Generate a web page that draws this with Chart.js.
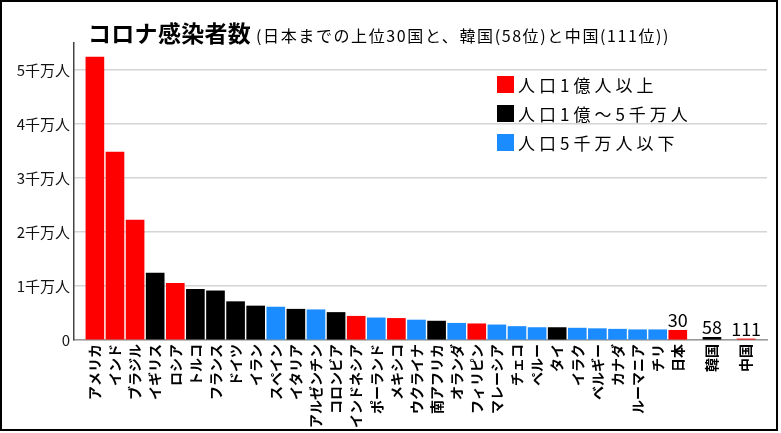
<!DOCTYPE html>
<html>
<head>
<meta charset="utf-8">
<script src="https://cdn.jsdelivr.net/npm/chart.js@4.4.1/dist/chart.umd.min.js"></script>
<style>
    html, body { margin: 0; padding: 0; background: #fff; }
    #wrap { position: relative; width: 781px; height: 433px; font-family: "Noto Sans CJK JP", sans-serif; }
    #frame { position: absolute; left: 0; top: 0; width: 774px; height: 427px; border: 2px solid #000; pointer-events: none; }
    #title { position: absolute; left: 88px; top: 15px; white-space: nowrap; color: #000; }
    #title b { font-size: 23px; font-weight: 700; letter-spacing: 0.3px; }
    #title span { font-size: 16px; margin-left: 5px; letter-spacing: 1.6px; }
    #legend { position: absolute; left: 497px; top: 74px; }
    .lg { display: flex; align-items: center; height: 20px; margin-bottom: 9px; font-size: 17px; letter-spacing: 4px; color: #000; }
    .lg i { display: inline-block; width: 17px; height: 17px; margin-right: 4px; }
</style>
</head>
<body>
<div id="wrap">
    <canvas id="c" width="781" height="433"></canvas>
    <div id="title"><b>コロナ感染者数</b><span>(日本までの上位30国と、韓国(58位)と中国(111位))</span></div>
    <div id="legend"></div>
    <div id="frame"></div>
</div>
<script>
// ── Data (cases in units of 千万人) ──────────────────────────────
const COUNTRIES = ["アメリカ","インド","ブラジル","イギリス","ロシア","トルコ","フランス","ドイツ","イラン","スペイン",
                   "イタリア","アルゼンチン","コロンビア","インドネシア","ポーランド","メキシコ","ウクライナ","南アフリカ","オランダ","フィリピン",
                   "マレーシア","チェコ","ペルー","タイ","イラク","ベルギー","カナダ","ルーマニア","チリ","日本",
                   "韓国","中国"];
const CASES     = [5.24,3.48,2.22,1.24,1.05,0.94,0.91,0.71,0.63,0.61,
                   0.57,0.56,0.51,0.44,0.41,0.40,0.37,0.35,0.31,0.30,
                   0.28,0.25,0.23,0.23,0.22,0.21,0.20,0.19,0.19,0.18,
                   0.05,0.02];
// population group: 0 = 1億以上, 1 = 1億〜5千万, 2 = 5千万以下
const GROUP     = [0,0,0,1,0,1,1,1,1,2,
                   1,2,1,0,2,0,2,1,2,0,
                   2,2,2,1,2,2,2,2,2,0,
                   1,0];
const GROUP_LABELS = ["人口1億人以上","人口1億〜5千万人","人口5千万人以下"];
const RANK_IDX  = [29,30,31];
const RANK_TEXT = ["30","58","111"];
const Y_TICKS   = [0,1,2,3,4,5];

// ── Layout / style ────────────────────────────────────────────────
const GROUP_COLORS = ["#ff0000","#000000","#1a8cff"];
const EXTRA_GAP = 1.7;   // spacing of 韓国 / 中国 after 日本 (in bar slots)
const FONT = '"Noto Sans CJK JP", sans-serif';

const xPos = COUNTRIES.map((c, i) => i < 30 ? i : 29 + (i - 29) * EXTRA_GAP);
const points = CASES.map((v, i) => ({ x: xPos[i], y: v }));

document.getElementById("legend").innerHTML = GROUP_LABELS.map((t, i) =>
    `<div class="lg"><i style="background:${GROUP_COLORS[i]}"></i>${t}</div>`).join("");

const rankLabels = {
    id: "rankLabels",
    afterDatasetsDraw(chart) {
        const ctx = chart.ctx;
        const meta = chart.getDatasetMeta(0);
        ctx.save();
        ctx.font = `18px ${FONT}`;
        ctx.fillStyle = "#000";
        ctx.textAlign = "center";
        ctx.textBaseline = "bottom";
        RANK_IDX.forEach((idx, k) => {
            const el = meta.data[idx];
            ctx.fillText(RANK_TEXT[k], el.x, el.y - 1);
        });
        ctx.restore();
    }
};

new Chart(document.getElementById("c").getContext("2d"), {
    type: "bar",
    data: {
        datasets: [{
            data: points,
            backgroundColor: GROUP.map(g => GROUP_COLORS[g]),
            borderWidth: 0,
            barThickness: 18,
        }],
    },
    options: {
        responsive: false, animation: false,
        layout: { padding: { top: 43, right: 14, left: 0, bottom: 0 } },
        plugins: { legend: { display: false }, tooltip: { enabled: false } },
        scales: {
            x: {
                type: "linear",
                min: -0.5, max: xPos[xPos.length - 1] + 0.5,
                afterBuildTicks: s => { s.ticks = xPos.map(v => ({ value: v })); },
                afterFit: s => { s.height = 93; },
                grid: { display: false, drawTicks: false },
                border: { display: true, color: "#999", width: 1.5 },
                ticks: {
                    autoSkip: false, minRotation: 90, maxRotation: 90, padding: 4,
                    color: "#000", font: { family: FONT, size: 14, weight: "bold" },
                    callback: (v, i) => COUNTRIES[i],
                },
            },
            y: {
                min: 0, max: 5.5,
                afterBuildTicks: s => { s.ticks = Y_TICKS.map(v => ({ value: v })); },
                afterFit: s => { s.width = 74; },
                grid: { color: "#d4d4d4", lineWidth: 1.5, drawTicks: false },
                border: { display: true, color: "#444", width: 1.5 },
                ticks: {
                    padding: 4, color: "#111", font: { family: FONT, size: 15 },
                    callback: v => v === 0 ? "0" : v + "千万人",
                },
            },
        },
    },
    plugins: [rankLabels],
});
</script>
</body>
</html>
